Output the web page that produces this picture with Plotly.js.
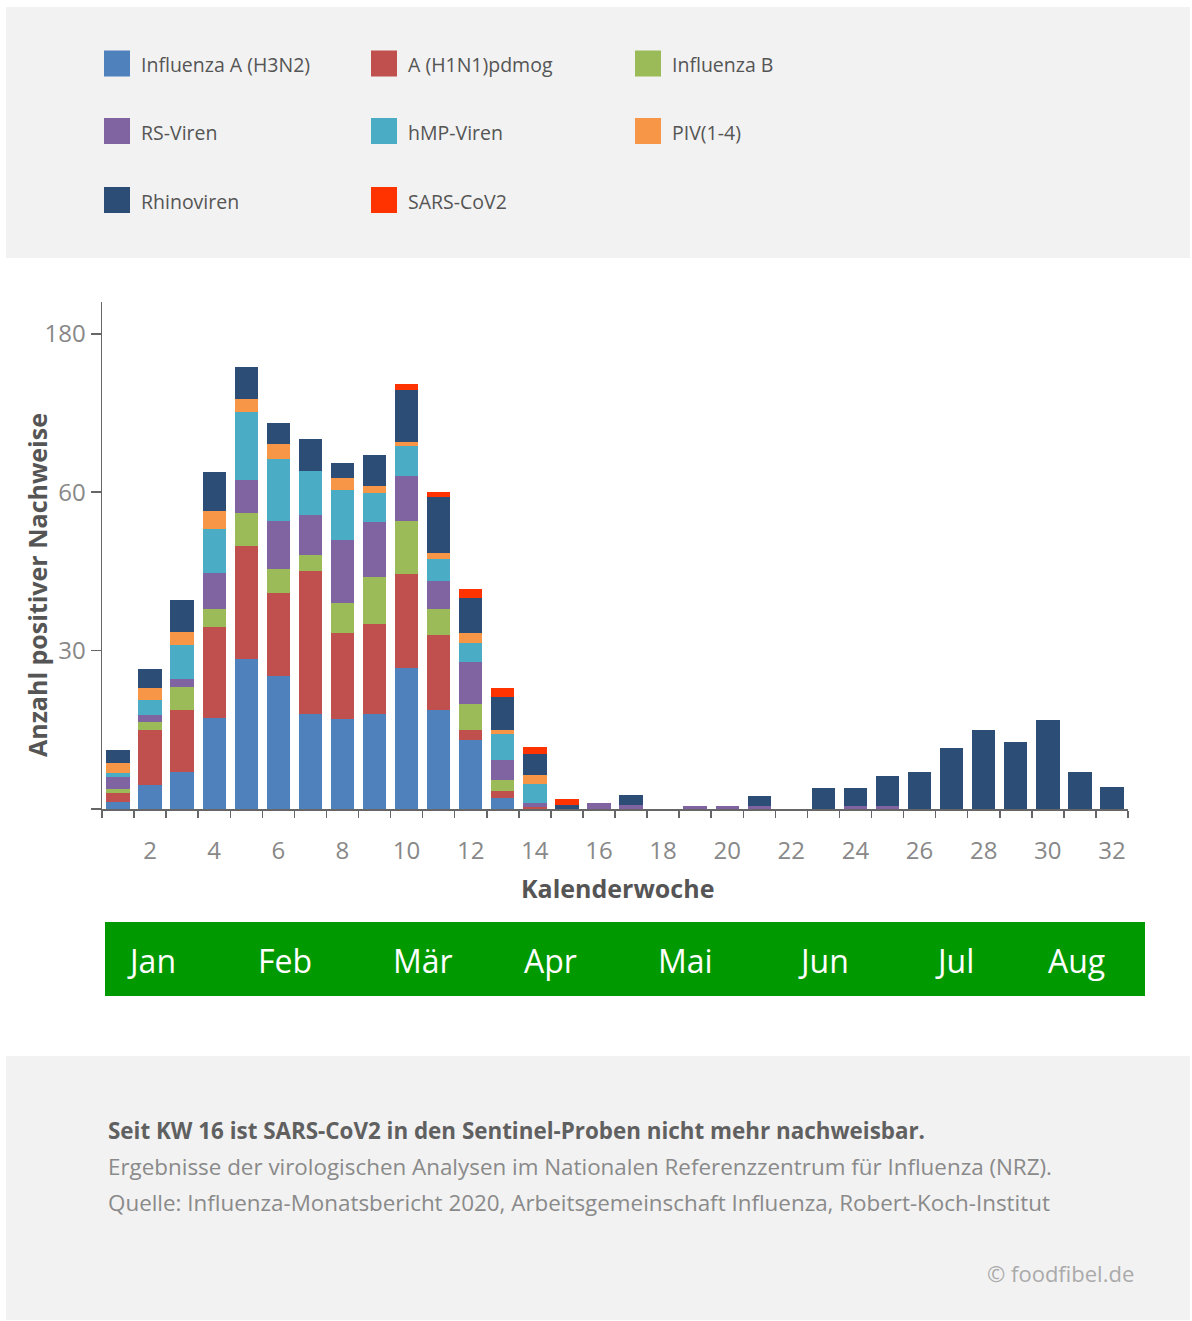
<!DOCTYPE html>
<html>
<head>
<meta charset="utf-8">
<script src="https://cdn.plot.ly/plotly-3.0.1.min.js"></script>
<style>
  html, body { margin: 0; padding: 0; background: #ffffff; }
  #chart { width: 1192px; height: 1321px; }
</style>
</head>
<body>
<div id="chart"></div>
<script>
// ---------- DATA (in axis units) ----------
const weeks = [1,2,3,4,5,6,7,8,9,10,11,12,13,14,15,16,17,18,19,20,21,22,23,24,25,26,27,28,29,30,31,32];
const weekTicks = [2,4,6,8,10,12,14,16,18,20,22,24,26,28,30,32];

const seriesNames = ["Influenza A (H3N2)", "A (H1N1)pdmog", "Influenza B", "RS-Viren", "hMP-Viren", "PIV(1-4)", "Rhinoviren", "SARS-CoV2"];
const seriesColors = ["#4f81bd", "#c0504d", "#9bbb59", "#8064a2", "#4bacc6", "#f79646", "#2c4d75", "#ff3300"];

const h3n2   = [1.3, 4.5, 7.1, 17.2, 28.5, 25.1, 18.0, 17.0, 18.0, 26.7, 18.8, 13.0, 2.1, 0, 0, 0, 0, 0, 0, 0, 0, 0, 0, 0, 0, 0, 0, 0, 0, 0, 0, 0];
const h1n1   = [1.8, 10.5, 11.7, 17.2, 21.3, 15.9, 27.0, 16.3, 17.1, 17.8, 14.1, 2.0, 1.25, 0.4, 0, 0, 0, 0, 0, 0, 0, 0, 0, 0, 0, 0, 0, 0, 0, 0, 0, 0];
const infB   = [0.6, 1.4, 4.4, 3.5, 6.25, 4.5, 3.2, 5.8, 8.8, 10.0, 5.0, 4.9, 2.2, 0, 0, 0, 0, 0, 0, 0, 0, 0, 0, 0, 0, 0, 0, 0, 0, 0, 0, 0];
const rsv    = [2.3, 1.4, 1.4, 6.8, 6.3, 9.0, 7.4, 11.9, 10.4, 8.5, 5.3, 7.9, 3.65, 0.75, 0, 1.1, 0.75, 0, 0.6, 0.6, 0.5, 0, 0, 0.5, 0.5, 0, 0, 0, 0, 0, 0, 0];
const hmp    = [0.9, 2.9, 6.4, 8.3, 12.9, 11.7, 8.5, 9.5, 5.6, 5.8, 4.2, 3.7, 5.05, 3.6, 0, 0, 0, 0, 0, 0, 0, 0, 0, 0, 0, 0, 0, 0, 0, 0, 0, 0];
const piv    = [1.8, 2.3, 2.5, 3.5, 2.4, 3.0, 0, 2.1, 1.25, 0.8, 1.1, 1.9, 0.75, 1.6, 0, 0, 0, 0, 0, 0, 0, 0, 0, 0, 0, 0, 0, 0, 0, 0, 0, 0];
const rhino  = [2.4, 3.5, 6.0, 7.4, 6.1, 4.0, 6.0, 2.9, 5.9, 9.8, 10.5, 6.6, 6.2, 4.0, 0.8, 0, 1.9, 0, 0, 0, 1.9, 0, 4.0, 3.5, 5.8, 7.1, 11.55, 15.0, 12.6, 16.9, 7.1, 4.2];
const sars   = [0, 0, 0, 0, 0, 0, 0, 0, 0, 1.1, 1.1, 1.6, 1.8, 1.4, 1.1, 0, 0, 0, 0, 0, 0, 0, 0, 0, 0, 0, 0, 0, 0, 0, 0, 0];

const yTickVals = [0, 30, 60, 90];
const yTickText = ["", "30", "60", "180"];

const months = ["Jan", "Feb", "Mär", "Apr", "Mai", "Jun", "Jul", "Aug"];
const monthPos = [2.05, 6.2, 10.5, 14.5, 18.7, 23.0, 27.1, 30.9];

const yTitle = "Anzahl positiver Nachweise";
const xTitle = "Kalenderwoche";
const noteBold = "Seit KW 16 ist SARS-CoV2 in den Sentinel-Proben nicht mehr nachweisbar.";
const noteLine1 = "Ergebnisse der virologischen Analysen im Nationalen Referenzzentrum für Influenza (NRZ).";
const noteLine2 = "Quelle: Influenza-Monatsbericht 2020, Arbeitsgemeinschaft Influenza, Robert-Koch-Institut";
const credit = "© foodfibel.de";

// ---------- LAYOUT HELPERS ----------
const W = 1192, H = 1321;
const M = { l: 102, r: 64, t: 302, b: 512 };
const PW = W - M.l - M.r, PH = H - M.t - M.b;
const px = x => (x - M.l) / PW;           // page px -> paper x
const py = y => (H - M.b - y) / PH;       // page px -> paper y
const FONT = "Open Sans, Noto Sans, sans-serif";

const allSeries = [h3n2, h1n1, infB, rsv, hmp, piv, rhino, sars];
const traces = allSeries.map((vals, i) => ({
  type: "bar",
  x: weeks,
  y: vals,
  name: seriesNames[i],
  marker: { color: seriesColors[i] },
  showlegend: false,
  hovertemplate: "KW %{x}: %{y}<extra>" + seriesNames[i] + "</extra>"
}));

const shapes = [
  // grey panels
  { type: "rect", xref: "paper", yref: "paper", x0: px(6), x1: px(1190), y0: py(7), y1: py(258), fillcolor: "#f2f2f2", line: { width: 0 }, layer: "below" },
  { type: "rect", xref: "paper", yref: "paper", x0: px(6), x1: px(1190), y0: py(1056), y1: py(1320), fillcolor: "#f2f2f2", line: { width: 0 }, layer: "below" },
  // month band
  { type: "rect", xref: "paper", yref: "paper", x0: px(105), x1: px(1145), y0: py(922), y1: py(996), fillcolor: "#009900", line: { width: 0 }, layer: "below" }
];

const annotations = [];

// custom legend (3 columns)
const legCols = [104, 371, 635];
const legRows = [63.5, 131, 200];
seriesNames.forEach((name, i) => {
  const c = i % 3, r = Math.floor(i / 3);
  const sx = legCols[c], sy = legRows[r];
  shapes.push({ type: "rect", xref: "paper", yref: "paper",
    x0: px(sx), x1: px(sx + 26), y0: py(sy - 13), y1: py(sy + 13),
    fillcolor: seriesColors[i], line: { width: 0 } });
  annotations.push({ xref: "paper", yref: "paper", x: px(sx + 35), y: py(sy + 1),
    xanchor: "left", yanchor: "middle", showarrow: false, text: name,
    font: { family: FONT, size: 19.5, color: "#555555" } });
});

// axis titles
annotations.push({ xref: "paper", yref: "paper", x: px(37), y: py(585), textangle: -90,
  xanchor: "center", yanchor: "middle", showarrow: false, text: "<b>" + yTitle + "</b>",
  font: { family: FONT, size: 25, color: "#555555" } });
annotations.push({ xref: "paper", yref: "paper", x: px(617), y: py(888),
  xanchor: "center", yanchor: "middle", showarrow: false, text: "<b>" + xTitle + "</b>",
  font: { family: FONT, size: 25, color: "#555555" } });

// months
months.forEach((m, i) => {
  annotations.push({ xref: "x", yref: "paper", x: monthPos[i], y: py(960),
    xanchor: "center", yanchor: "middle", showarrow: false, text: m,
    font: { family: FONT, size: 32, color: "#ffffff" } });
});

// footer
annotations.push({ xref: "paper", yref: "paper", x: px(106), y: py(1130), xanchor: "left", yanchor: "middle",
  showarrow: false, text: "<b>" + noteBold + "</b>", font: { family: FONT, size: 22.4, color: "#606060" } });
annotations.push({ xref: "paper", yref: "paper", x: px(106), y: py(1166), xanchor: "left", yanchor: "middle",
  showarrow: false, text: noteLine1, font: { family: FONT, size: 22.4, color: "#8a8a8a" } });
annotations.push({ xref: "paper", yref: "paper", x: px(106), y: py(1202), xanchor: "left", yanchor: "middle",
  showarrow: false, text: noteLine2, font: { family: FONT, size: 22.4, color: "#8a8a8a" } });
annotations.push({ xref: "paper", yref: "paper", x: px(1136), y: py(1273), xanchor: "right", yanchor: "middle",
  showarrow: false, text: credit, font: { family: FONT, size: 22, color: "#aaaaaa" } });

const layout = {
  width: W, height: H,
  margin: M,
  paper_bgcolor: "#ffffff",
  plot_bgcolor: "rgba(0,0,0,0)",
  barmode: "stack",
  bargap: 0.27,
  font: { family: FONT, color: "#888888" },
  showlegend: false,
  xaxis: {
    range: [0.5, 32.5],
    tickmode: "array",
    tickvals: weekTicks,
    ticktext: weekTicks.map(String),
    ticks: "",
    ticklabelstandoff: 20,
    showline: true, linecolor: "#666666", linewidth: 1.5,
    showgrid: false, zeroline: false,
    tickfont: { family: FONT, size: 24, color: "#888888" },
    minor: { tick0: 0.5, dtick: 1, ticks: "outside", ticklen: 7, tickwidth: 1.5, tickcolor: "#666666", showgrid: false }
  },
  yaxis: {
    range: [0, PH / 5.28],
    tickmode: "array",
    tickvals: yTickVals,
    ticktext: yTickText,
    ticks: "outside", ticklen: 10, tickwidth: 1.5, tickcolor: "#666666",
    showline: true, linecolor: "#666666", linewidth: 1.5,
    showgrid: false, zeroline: false,
    tickfont: { family: FONT, size: 24, color: "#888888" }
  },
  shapes: shapes,
  annotations: annotations
};

Plotly.newPlot("chart", traces, layout, { displayModeBar: false, staticPlot: true });
</script>
</body>
</html>
